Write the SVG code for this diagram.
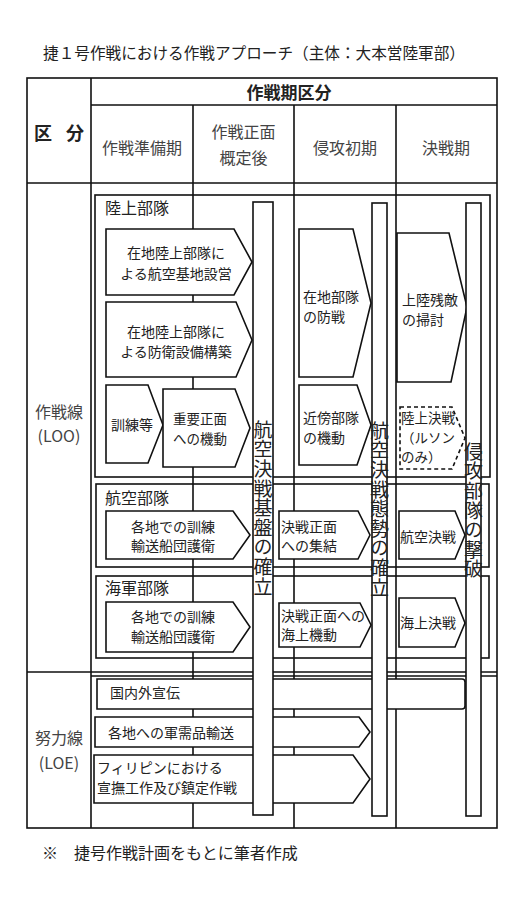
<svg xmlns="http://www.w3.org/2000/svg" width="532" height="900" viewBox="0 0 532 900">
<style>
text{font-family:"Noto Sans CJK JP","Noto Sans CJK SC",sans-serif;fill:#222}
.ln{stroke:#111;stroke-width:1.6;fill:none}
.bx{stroke:#111;stroke-width:1.6;fill:none}
.ar{stroke:#111;stroke-width:1.6;fill:#fff}
.dash{stroke:#111;stroke-width:1.6;fill:#fff;stroke-dasharray:4 3}
.bar{stroke:#111;stroke-width:1.6;fill:#fff}
.t14{font-size:14px}
.t16{font-size:16px}
.hd{font-size:16px;fill:#444}
.bt{font-size:19px;fill:#222;writing-mode:vertical-rl;letter-spacing:0.6px}
.mid{text-anchor:middle}
</style>
<rect width="532" height="900" fill="#fff"/>
<text x="43" y="59" font-size="16" textLength="422" lengthAdjust="spacingAndGlyphs">捷１号作戦における作戦アプローチ（主体：大本営陸軍部）</text>

<g id="table">
<rect class="ln" x="27" y="78" width="470" height="750"/>
<path class="ln" d="M91 78V828M193 105V828M294 105V828M396 105V828M91 105H497M27 183H497M27 672H497M91 676H497"/>
<text x="289" y="99" font-size="17" font-weight="bold" class="mid">作戦期区分</text>
<text x="34" y="140" font-size="18" font-weight="bold" textLength="50">区　分</text>
<text x="142" y="154" class="hd mid">作戦準備期</text>
<text x="243.5" y="138" class="hd mid">作戦正面</text>
<text x="243.5" y="164" class="hd mid">概定後</text>
<text x="345" y="154" class="hd mid">侵攻初期</text>
<text x="446" y="154" class="hd mid">決戦期</text>
<text x="59" y="418" class="hd mid">作戦線</text>
<text x="59" y="442" class="hd mid">(LOO)</text>
<text x="59" y="744" class="hd mid">努力線</text>
<text x="59" y="769" class="hd mid">(LOE)</text>
</g>

<g id="land">
<rect class="bx" x="95" y="195" width="395" height="282"/>
<text x="105" y="214" class="t16">陸上部隊</text>
</g>
<g id="air">
<rect class="bx" x="96" y="484" width="393" height="83"/>
<text x="105" y="504" class="t16">航空部隊</text>
</g>
<g id="navy">
<rect class="bx" x="96" y="576" width="393" height="82"/>
<text x="105" y="594" class="t16">海軍部隊</text>
</g>

<g id="n1"><polygon class="ar" points="106,229 234,229 252,262 234,295 106,295"/>
<text x="176" y="258" class="t14 mid">在地陸上部隊に</text><text x="176" y="279" class="t14 mid">よる航空基地設営</text></g>
<g id="n2"><polygon class="ar" points="106,302 236,302 252,340 236,377 106,377"/>
<text x="176" y="337" class="t14 mid">在地陸上部隊に</text><text x="176" y="357" class="t14 mid">よる防衛設備構築</text></g>
<g id="n3"><polygon class="ar" points="106,385 148,385 163,425 148,463 106,463"/>
<text x="132" y="430" class="t14 mid">訓練等</text></g>
<g id="n4"><polygon class="ar" points="163,389 235,389 250,428 235,467 163,467"/>
<text x="173" y="424" font-size="13.5">重要正面</text><text x="173" y="444" font-size="13.5">への機動</text></g>
<g id="n5"><polygon class="ar" points="299,229 353,229 371,303 353,377 299,377"/>
<text x="303" y="302" class="t14">在地部隊</text><text x="303" y="322" class="t14">の防戦</text></g>
<g id="n6"><polygon class="ar" points="397,233 449,233 467,307 451,382 397,382"/>
<text x="402" y="305" class="t14">上陸残敵</text><text x="402" y="325" class="t14">の掃討</text></g>
<g id="n7"><polygon class="ar" points="299,385 357,385 371,425 357,465 299,465"/>
<text x="303" y="423" class="t14">近傍部隊</text><text x="303" y="443" class="t14">の機動</text></g>
<g id="n8"><polygon class="dash" points="400,407 452,407 465,438 452,469 400,469"/>
<text x="401" y="423" font-size="13.5">陸上決戦</text><text x="401" y="443" font-size="13.5">（ルソン</text><text x="401" y="462" font-size="13.5">のみ）</text></g>
<g id="n9"><polygon class="ar" points="106,511 233,511 250,535 233,559 106,559"/>
<text x="173" y="532" class="t14 mid">各地での訓練</text><text x="173" y="551" class="t14 mid">輸送船団護衛</text></g>
<g id="n10"><polygon class="ar" points="279,511 358,511 370,535 358,559 279,559"/>
<text x="281" y="532" class="t14">決戦正面</text><text x="281" y="551" class="t14">への集結</text></g>
<g id="n11"><polygon class="ar" points="399,511 455,511 465,535 455,559 399,559"/>
<text x="400" y="542" class="t14">航空決戦</text></g>
<g id="n12"><polygon class="ar" points="106,602 233,602 250,627 233,652 106,652"/>
<text x="173" y="622" class="t14 mid">各地での訓練</text><text x="173" y="642" class="t14 mid">輸送船団護衛</text></g>
<g id="n13"><polygon class="ar" points="279,603 360,603 371,625 360,647 279,647"/>
<text x="281" y="621" class="t14">決戦正面への</text><text x="281" y="640" class="t14">海上機動</text></g>
<g id="n14"><polygon class="ar" points="399,598 455,598 465,623 455,647 399,647"/>
<text x="400" y="628" class="t14">海上決戦</text></g>

<g id="e1"><path class="ar" d="M97 679H462Q465 679 465 682V706Q465 709 462 709H97Z"/>
<text x="110" y="698" class="t14">国内外宣伝</text></g>
<g id="e2"><polygon class="ar" points="95,717 359,717 370,732 359,747 95,747"/>
<text x="108" y="738" class="t14">各地への軍需品輸送</text></g>
<g id="e3"><polygon class="ar" points="94,755 353,755 370,779 353,803 94,803"/>
<text x="97" y="773" class="t14">フィリピンにおける</text><text x="97" y="793" class="t14">宣撫工作及び鎮定作戦</text></g>

<g id="bar1"><rect class="bar" x="253" y="202" width="20" height="613"/>
<text class="bt" x="263" y="420">航空決戦基盤の確立</text></g>
<g id="bar2"><rect class="bar" x="372" y="203" width="15" height="613"/>
<text class="bt" x="379.5" y="421">航空決戦態勢の確立</text></g>
<g id="bar3"><rect class="bar" x="466" y="203" width="15" height="613"/>
<text class="bt" x="473.5" y="442">侵攻部隊の撃破</text></g>

<text x="42" y="859" class="t16">※　捷号作戦計画をもとに筆者作成</text>
</svg>
